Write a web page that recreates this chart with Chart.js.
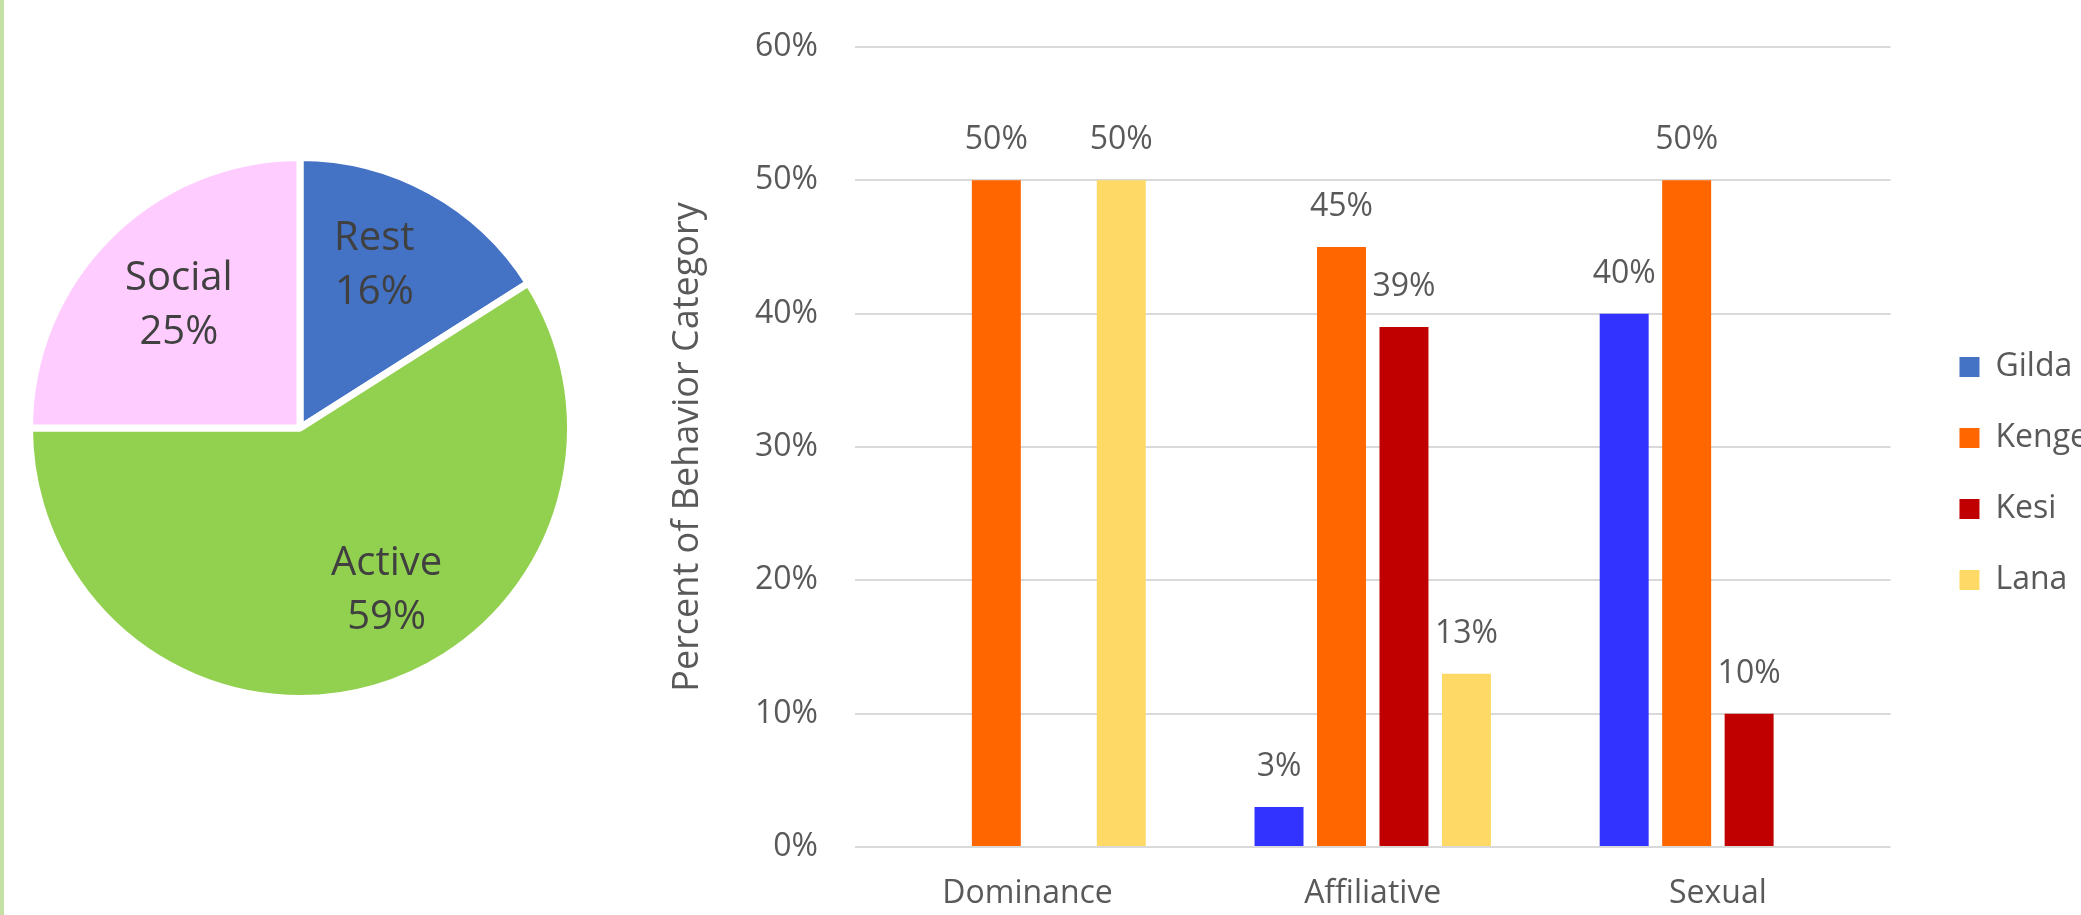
<!DOCTYPE html>
<html><head><meta charset="utf-8">
<script src="https://cdn.jsdelivr.net/npm/chart.js@4.4.0/dist/chart.umd.min.js"></script>
<style>
html,body{margin:0;padding:0;width:2081px;height:915px;overflow:hidden;background:#fff;}
#strip{position:absolute;left:0;top:0;width:4px;height:915px;background:#C4E0A2;}
#pieWrap{position:absolute;left:26px;top:154px;width:548px;height:548px;}
#barWrap{position:absolute;left:600px;top:0;width:1481px;height:915px;overflow:hidden;}
canvas{display:block;}
</style></head><body>
<div id="strip"></div>
<div id="pieWrap"><canvas id="pie" width="548" height="548"></canvas></div>
<div id="barWrap"><canvas id="bar" width="1498" height="915"></canvas></div>
<script>
// ---- data ----
const pieLabels = ['Rest', 'Active', 'Social'];
const pieValues = [16, 59, 25];

const categories = ['Dominance', 'Affiliative', 'Sexual'];
const seriesNames = ['Gilda', 'Kenge', 'Kesi', 'Lana'];
const gildaValues = [null, 3, 40];
const kengeValues = [50, 45, 50];
const kesiValues = [null, 39, 10];
const lanaValues = [50, 13, null];
const yTickValues = [0, 10, 20, 30, 40, 50, 60];

// ---- styles ----
const pieColors = ['#4472C4', '#92D050', '#FFCCFF'];
const barColors = ['#3333FF', '#FF6600', '#C00000', '#FFD966'];
const legendColors = ['#4472C4', '#FF6600', '#C00000', '#FFD966'];

Chart.defaults.font.family = "'Open Sans', sans-serif";

const pieLabelPlugin = {
  id: 'pieText',
  afterDatasetsDraw(chart, args, opts) {
    const meta = chart.getDatasetMeta(0);
    const ctx = chart.ctx;
    ctx.save();
    ctx.font = '40px "Open Sans"';
    ctx.fillStyle = '#404040';
    ctx.textAlign = 'center';
    ctx.textBaseline = 'middle';
    meta.data.forEach((arc, i) => {
      const p = arc.getProps(['startAngle', 'endAngle', 'outerRadius', 'x', 'y'], true);
      const mid = (p.startAngle + p.endAngle) / 2;
      const r = p.outerRadius * 0.67;
      const off = (opts.offsets && opts.offsets[i]) || [0, 0];
      const cx = p.x + Math.cos(mid) * r + off[0];
      const cy = p.y + Math.sin(mid) * r + off[1];
      ctx.fillText(chart.data.labels[i], cx, cy - 27);
      ctx.fillText(chart.data.datasets[0].data[i] + '%', cx, cy + 27);
    });
    ctx.restore();
  }
};

const barLabelPlugin = {
  id: 'barText',
  afterDatasetsDraw(chart) {
    const ctx = chart.ctx;
    ctx.save();
    ctx.font = '32px "Open Sans"';
    ctx.fillStyle = '#595959';
    ctx.textAlign = 'center';
    ctx.textBaseline = 'middle';
    chart.data.datasets.forEach((ds, di) => {
      const meta = chart.getDatasetMeta(di);
      meta.data.forEach((bar, j) => {
        const v = ds.data[j];
        if (v === null || v === undefined) return;
        ctx.fillText(v + '%', bar.x, bar.y - 40);
      });
    });
    ctx.restore();
  }
};

new Chart(document.getElementById('pie'), {
  type: 'pie',
  data: {
    labels: pieLabels,
    datasets: [{ data: pieValues, backgroundColor: pieColors, borderColor: '#ffffff', borderWidth: 7 }]
  },
  options: {
    responsive: false, animation: false, devicePixelRatio: 1,
    layout: { padding: 0 },
    plugins: {
      legend: { display: false },
      tooltip: { enabled: false },
      pieText: { offsets: [[-13, -4], [36, -11], [7, 6]] }
    }
  },
  plugins: [pieLabelPlugin]
});

const seriesData = [gildaValues, kengeValues, kesiValues, lanaValues];

new Chart(document.getElementById('bar'), {
  type: 'bar',
  data: {
    labels: categories,
    datasets: seriesNames.map((n, i) => ({
      label: n,
      data: seriesData[i],
      backgroundColor: barColors[i],
      categoryPercentage: 0.724,
      barPercentage: 0.784
    }))
  },
  options: {
    responsive: false, animation: false, devicePixelRatio: 1,
    layout: { padding: { top: 32, bottom: 0, left: 0, right: 0 } },
    plugins: {
      tooltip: { enabled: false },
      legend: {
        position: 'right',
        align: 'center',
        labels: {
          boxWidth: 20, boxHeight: 20, padding: 39,
          color: '#595959',
          font: { size: 32 },
          generateLabels(chart) {
            return chart.data.datasets.map((ds, i) => ({
              text: ds.label,
              fillStyle: legendColors[i],
              strokeStyle: legendColors[i],
              lineWidth: 0,
              hidden: false,
              datasetIndex: i,
              fontColor: '#595959'
            }));
          }
        }
      }
    },
    scales: {
      x: {
        grid: { display: false, drawTicks: false },
        border: { display: false },
        ticks: { color: '#595959', font: { size: 32 }, padding: 28 },
        afterFit(s) { s.height = 68; }
      },
      y: {
        min: 0, max: 60,
        grid: { color: '#D9D9D9', lineWidth: 2, drawTicks: true, tickLength: 9.2, tickColor: 'rgba(0,0,0,0)' },
        border: { display: false },
        ticks: { padding: 27.8, color: '#595959', font: { size: 32 }, callback: v => v + '%' },
        afterBuildTicks(s) { s.ticks = yTickValues.map(v => ({ value: v })); },
        title: {
          display: true, text: 'Percent of Behavior Category',
          color: '#595959', font: { size: 36 },
          padding: { top: 66, bottom: 0 }
        },
        afterFit(s) { s.width = 255; }
      },
      y2: {
        position: 'right', display: true,
        grid: { display: false, drawTicks: false },
        border: { display: false },
        ticks: { display: false },
        afterFit(s) { s.width = 30; }
      }
    }
  },
  plugins: [barLabelPlugin]
});
</script>
</body></html>
